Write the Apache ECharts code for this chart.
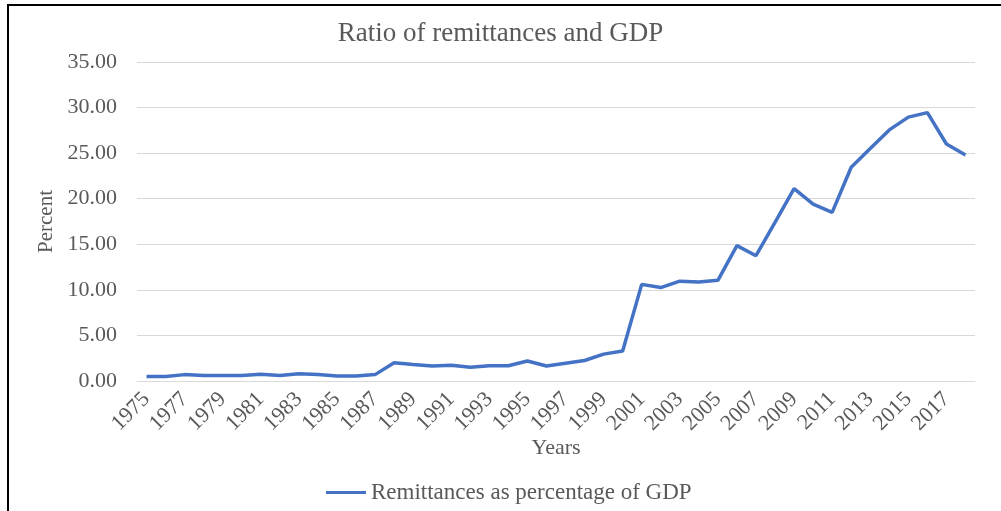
<!DOCTYPE html>
<html>
<head>
<meta charset="utf-8">
<script src="https://cdn.jsdelivr.net/npm/echarts@6/dist/echarts.min.js"></script>
<style>
html,body{margin:0;padding:0;background:#fff;}
#chart{width:1001px;height:511px;position:absolute;left:0;top:0;}
#frame{position:absolute;left:7px;top:4px;width:1001px;height:520px;border-left:2px solid #000;border-top:2px solid #000;pointer-events:none;}
</style>
</head>
<body>
<div id="chart"></div>
<div id="frame"></div>
<script>
const years = [];
for (let y = 1975; y <= 2018; y++) years.push(String(y));
const remittances = [
  0.5, 0.5, 0.7, 0.6, 0.6, 0.6, 0.75, 0.6, 0.8, 0.7,
  0.55, 0.55, 0.7, 2.0, 1.8, 1.65, 1.72, 1.5, 1.68, 1.68,
  2.2, 1.65, 1.95, 2.25, 2.95, 3.3, 10.6, 10.25, 10.95, 10.85,
  11.05, 14.85, 13.75, 17.4, 21.1, 19.4, 18.5, 23.45, 25.5, 27.55,
  28.95, 29.45, 26.0, 24.8
];
const titleText = 'Ratio of remittances and GDP';
const seriesName = 'Remittances as percentage of GDP';
const font = 'Liberation Serif';
const grey = '#595959';

const chart = echarts.init(document.getElementById('chart'));
chart.setOption({
  animation: false,
  backgroundColor: '#fff',
  title: {
    text: titleText,
    left: 'center',
    top: 15,
    textStyle: {fontFamily: font, fontSize: 27, fontWeight: 'normal', color: grey}
  },
  legend: {
    data: [{name: seriesName, icon: 'rect'}],
    left: 321,
    top: 476,
    itemWidth: 40,
    itemHeight: 3,
    itemGap: 5,
    textStyle: {fontFamily: font, fontSize: 23, color: grey}
  },
  grid: {left: 137, right: 26, top: 62, bottom: 130, containLabel: false},
  xAxis: {
    type: 'category',
    data: years,
    boundaryGap: true,
    name: 'Years',
    nameLocation: 'middle',
    nameGap: 56,
    nameMoveOverlap: false,
    nameTextStyle: {fontFamily: font, fontSize: 22, color: grey},
    axisLine: {lineStyle: {color: '#d9d9d9', width: 1}},
    axisTick: {show: false},
    axisLabel: {
      interval: 1,
      rotate: 45,
      margin: 15,
      fontFamily: font,
      fontSize: 22,
      color: grey
    }
  },
  yAxis: {
    type: 'value',
    min: 0,
    max: 35,
    interval: 5,
    name: 'Percent',
    nameLocation: 'middle',
    nameGap: 80,
    nameRotate: 90,
    nameTextStyle: {fontFamily: font, fontSize: 21, color: grey},
    axisLine: {show: false},
    axisTick: {show: false},
    splitLine: {lineStyle: {color: '#d9d9d9', width: 1}},
    axisLabel: {
      margin: 20,
      fontFamily: font,
      fontSize: 22,
      color: grey,
      formatter: v => v.toFixed(2)
    }
  },
  series: [{
    name: seriesName,
    type: 'line',
    data: remittances,
    symbol: 'none',
    lineStyle: {color: '#4472C4', width: 3.5},
    itemStyle: {color: '#4472C4'}
  }]
});
</script>
</body>
</html>
